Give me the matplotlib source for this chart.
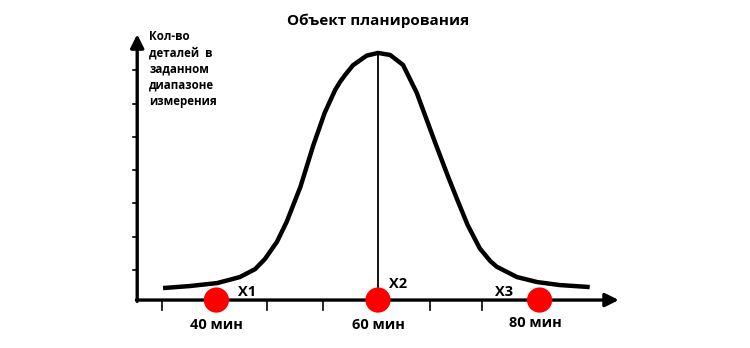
import matplotlib
matplotlib.use("Agg")
import matplotlib.pyplot as plt

# curve: time (min) vs count of parts
curve_x = [33.4, 36.7, 40.1, 42.9, 44.8, 46.0, 47.5, 48.7, 50.4, 52.0, 53.4, 54.7, 55.3, 56.0,
           56.9, 58.6, 60.0, 61.5, 63.1, 64.8, 67.1, 68.7, 69.8, 71.1, 72.6, 73.9, 74.7,
           77.2, 79.7, 82.5, 86.2]
curve_y = [0.36, 0.42, 0.51, 0.69, 0.93, 1.23, 1.75, 2.35, 3.40, 4.65, 5.62, 6.31, 6.55, 6.78,
           7.05, 7.34, 7.42, 7.36, 7.06, 6.22, 4.71, 3.69, 3.02, 2.25, 1.55, 1.17, 1.00,
           0.69, 0.54, 0.45, 0.39]

points_x = [40, 60, 80]
point_names = ["X1", "X2", "X3"]
point_labels = ["40 мин", "60 мин", "80 мин"]

x_ticks = [33.3, 39.7, 46.3, 53.2, 60.0, 66.4, 72.9, 79.7]
y_ticks = [0.9, 1.9, 2.9, 3.9, 4.9, 5.9, 6.9]

title = "Объект планирования"
y_title = "Кол-во\nдеталей  в\nзаданном\nдиапазоне\nизмерения"

plt.rcParams["font.family"] = ["Open Sans", "DejaVu Sans"]

fig = plt.figure(figsize=(7.5, 3.48), dpi=100)
ax = fig.add_axes([0, 0, 1, 1])
ax.set_xlim(13.22, 106.04)
ax.set_ylim(-1.44, 9.01)
ax.axis("off")

x0 = 30.2
# axes drawn as arrows
ax.annotate("", xy=(89.8, 0), xytext=(x0 - 0.1, 0),
            arrowprops=dict(arrowstyle="-|>", lw=2.4, color="black", mutation_scale=20,
                            shrinkA=0, shrinkB=0))
ax.annotate("", xy=(x0, 7.98), xytext=(x0, -0.04),
            arrowprops=dict(arrowstyle="-|>", lw=2.4, color="black", mutation_scale=20,
                            shrinkA=0, shrinkB=0))

for t in x_ticks:
    ax.plot([t, t], [0, -0.3], color="black", lw=1.2)
for t in y_ticks:
    ax.plot([x0 - 0.55, x0], [t, t], color="black", lw=1.2)

# bell curve
ax.plot(curve_x, curve_y, color="black", lw=3.2, solid_capstyle="butt", solid_joinstyle="round")
ax.plot([60, 60], [0, max(curve_y)], color="black", lw=1.3)

ax.scatter(points_x, [0] * len(points_x), s=330, color="#ff0000", zorder=5, edgecolors="none")

name_pos = [(43.8, 0.25), (62.5, 0.47), (75.6, 0.25)]
for name, (nx, ny) in zip(point_names, name_pos):
    ax.text(nx, ny, name, fontsize=10.5, fontweight="bold", ha="center", va="center")

label_x = [40, 60, 79.5]
label_y = [-0.75, -0.75, -0.68]
for lbl, lx, ly in zip(point_labels, label_x, label_y):
    ax.text(lx, ly, lbl, fontsize=10.5, fontweight="bold", ha="center", va="center")

ax.text(60, 8.4, title, fontsize=11, fontweight="bold", ha="center", va="center")
ax.text(31.7, 8.1, y_title, fontsize=8.3, fontweight="bold", ha="left", va="top",
        linespacing=1.32)

fig.savefig("out.png", dpi=100)
